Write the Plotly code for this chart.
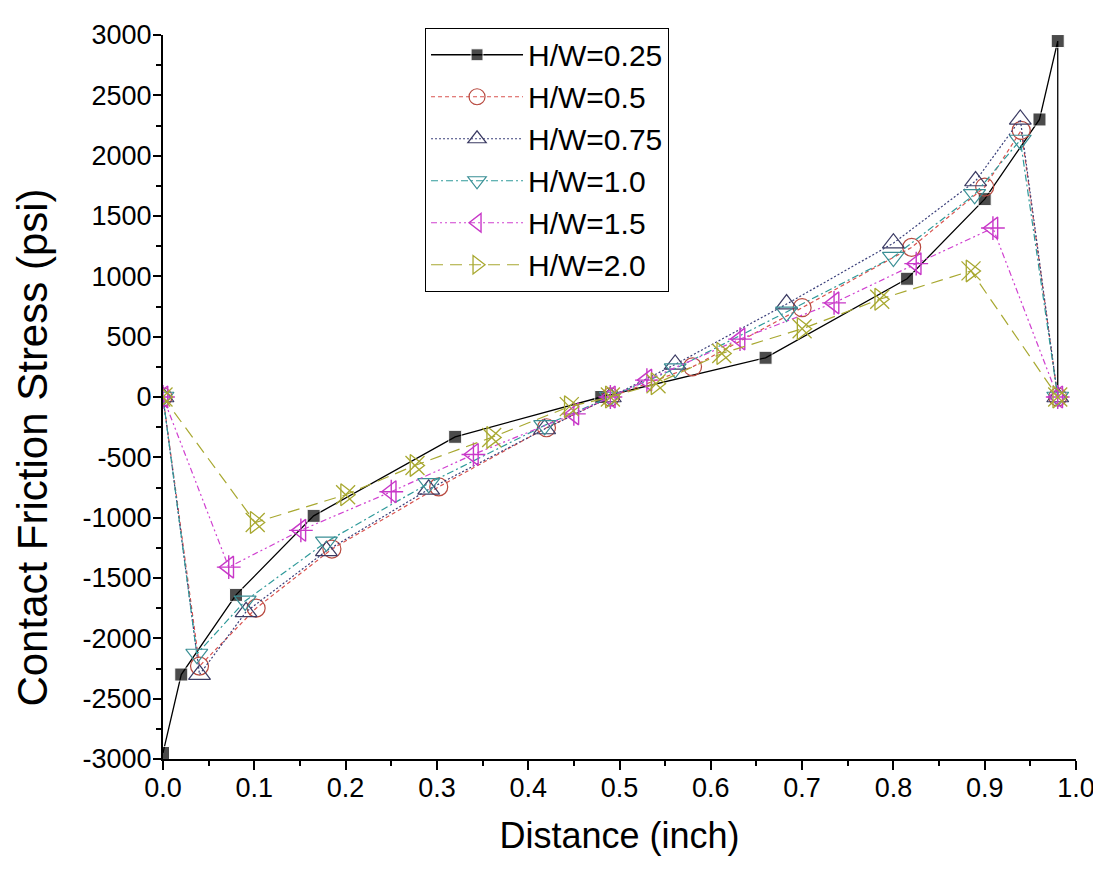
import plotly.graph_objects as go

# ---- data ----
x_025 = [0.0, 0.02, 0.08, 0.165, 0.32, 0.48, 0.66, 0.815, 0.90, 0.96, 0.98, 0.98]
y_025 = [-2950, -2300, -1640, -985, -330, 0, 325, 980, 1640, 2300, 2950, 0]

x_05 = [0.0, 0.04, 0.102, 0.185, 0.302, 0.42, 0.49, 0.58, 0.70, 0.82, 0.90, 0.94, 0.98]
y_05 = [0, -2230, -1750, -1260, -745, -255, 0, 250, 740, 1240, 1740, 2210, 0]

x_075 = [0.0, 0.04, 0.091, 0.179, 0.291, 0.418, 0.49, 0.561, 0.683, 0.80, 0.89, 0.939, 0.98]
y_075 = [0, -2300, -1780, -1275, -765, -265, 0, 270, 770, 1275, 1790, 2300, 0]

x_10 = [0.0, 0.037, 0.090, 0.179, 0.291, 0.418, 0.49, 0.561, 0.683, 0.80, 0.889, 0.939, 0.98]
y_10 = [0, -2130, -1690, -1200, -715, -235, 0, 235, 705, 1160, 1680, 2130, 0]

x_15 = [0.0, 0.072, 0.151, 0.25, 0.34, 0.45, 0.49, 0.53, 0.632, 0.735, 0.825, 0.909, 0.98]
y_15 = [0, -1410, -1105, -785, -476, -140, 0, 140, 480, 780, 1105, 1400, 0]

x_20 = [0.0, 0.101, 0.20, 0.276, 0.36, 0.445, 0.49, 0.54, 0.612, 0.70, 0.785, 0.885, 0.98]
y_20 = [0, -1040, -810, -567, -335, -80, 0, 110, 361, 565, 810, 1045, 0]

labels = ["H/W=0.25", "H/W=0.5", "H/W=0.75", "H/W=1.0", "H/W=1.5", "H/W=2.0"]

y_ticks = list(range(-3000, 3001, 500))
y_ticktext = [str(v) for v in y_ticks]          # plain hyphen minus, as in the reference
x_ticks = [i / 10 for i in range(11)]
x_ticktext = ["%.1f" % v for v in x_ticks]

x_title = "Distance (inch)"
y_title = "Contact Friction Stress (psi)"

FONT = "Liberation Sans, Arial, sans-serif"

fig = go.Figure()

# H/W=0.25 : black solid, filled squares (last point is the drop to zero, no marker)
fig.add_trace(go.Scatter(
    x=x_025, y=y_025, mode="lines+markers", name=labels[0], legendgroup="g0",
    line=dict(color="black", width=1.3),
    marker=dict(symbol="square", size=[13] * (len(x_025) - 1) + [0], color="black"),
))

fig.add_trace(go.Scatter(
    x=x_05, y=y_05, mode="lines+markers", name=labels[1], legendgroup="g1",
    line=dict(color="#d9534f", width=1.2, dash="4px,3px"),
    marker=dict(symbol="circle-open", size=18, color="#b84a40", line=dict(width=1.2)),
))

fig.add_trace(go.Scatter(
    x=x_075, y=y_075, mode="lines+markers", name=labels[2], legendgroup="g2",
    line=dict(color="#3a3f7a", width=1.2, dash="2px,2px"),
    marker=dict(symbol="triangle-up-open", size=19, color="#3c3c64", line=dict(width=1.2)),
))

fig.add_trace(go.Scatter(
    x=x_10, y=y_10, mode="lines+markers", name=labels[3], legendgroup="g3",
    line=dict(color="#2f9a9a", width=1.2, dash="7px,3px,2px,3px"),
    marker=dict(symbol="triangle-down-open", size=19, color="#3a8f95", line=dict(width=1.2)),
))

fig.add_trace(go.Scatter(
    x=x_15, y=y_15, mode="lines+markers", name=labels[4], legendgroup="g4",
    line=dict(color="#d040d0", width=1.2, dash="6px,3px,2px,3px,2px,3px"),
    marker=dict(symbol="triangle-left-open", size=19, color="#c838c8", line=dict(width=1.4)),
))
fig.add_trace(go.Scatter(
    x=x_15, y=y_15, mode="markers", showlegend=False, legendgroup="g4", hoverinfo="skip",
    marker=dict(symbol="cross-thin-open", size=17, color="#c838c8", line=dict(width=1.4, color="#c838c8")),
))

fig.add_trace(go.Scatter(
    x=x_20, y=y_20, mode="lines+markers", name=labels[5], legendgroup="g5",
    line=dict(color="#a8a830", width=1.2, dash="12px,7px"),
    marker=dict(symbol="triangle-right-open", size=19, color="#a8a830", line=dict(width=1.3)),
))
fig.add_trace(go.Scatter(
    x=x_20, y=y_20, mode="markers", showlegend=False, legendgroup="g5", hoverinfo="skip",
    marker=dict(symbol="x-thin-open", size=19, color="#a8a830", line=dict(width=1.3, color="#a8a830")),
))

tick_font = dict(family=FONT, size=27, color="black")

fig.update_layout(
    width=1101, height=872,
    paper_bgcolor="white", plot_bgcolor="white",
    margin=dict(l=155, r=33, t=20, b=121),
    font=dict(family=FONT, color="black"),
    showlegend=True,
    legend=dict(
        x=0.287, y=1.01, xanchor="left", yanchor="top",
        bordercolor="black", borderwidth=1, bgcolor="white",
        font=dict(family=FONT, size=30, color="black"),
        tracegroupgap=0, itemwidth=92,
    ),
    xaxis=dict(
        range=[0, 1], tickmode="array", tickvals=x_ticks, ticktext=x_ticktext,
        showline=True, linecolor="black", linewidth=2,
        ticks="outside", ticklen=9, tickwidth=2, tickcolor="black",
        minor=dict(ticks="outside", ticklen=5, dtick=0.05, tick0=0, tickwidth=2, tickcolor="black"),
        showgrid=False, zeroline=False, tickfont=tick_font, ticklabelstandoff=-5,
        title=dict(text=x_title, font=dict(family=FONT, size=36), standoff=20),
    ),
    yaxis=dict(
        range=[-3000, 3000], tickmode="array", tickvals=y_ticks, ticktext=y_ticktext,
        showline=True, linecolor="black", linewidth=2,
        ticks="outside", ticklen=8, tickwidth=2, tickcolor="black",
        minor=dict(ticks="outside", ticklen=5, dtick=250, tick0=0, tickwidth=2, tickcolor="black"),
        showgrid=False, zeroline=False, tickfont=tick_font, ticklabelstandoff=-4,
    ),
    annotations=[dict(
        text=y_title, textangle=-90, showarrow=False,
        xref="paper", yref="paper", x=-0.1425, y=0.43, xanchor="center", yanchor="middle",
        font=dict(family=FONT, size=42, color="black"),
    )],
)

fig.write_html("out.html")
